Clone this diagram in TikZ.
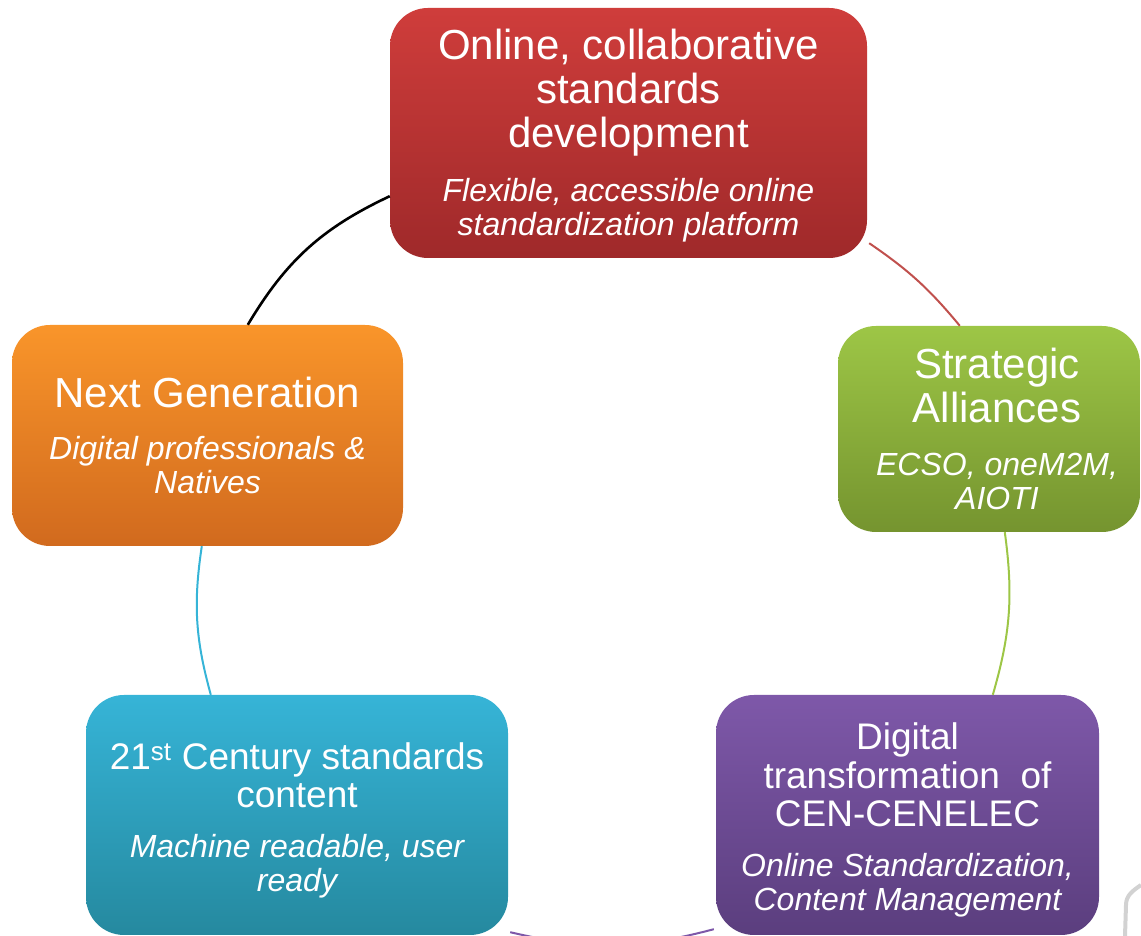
\documentclass[tikz,border=0pt]{standalone}
\usepackage{fontspec}
\setmainfont{Liberation Sans}
\usepackage{xcolor}
\usepackage{tikz}
\usetikzlibrary{calc}
\definecolor{redtop}{HTML}{CF3D3B}
\definecolor{redbot}{HTML}{9F292A}
\definecolor{redline}{HTML}{C0504D}
\definecolor{greentop}{HTML}{9DC646}
\definecolor{greenbot}{HTML}{75942F}
\definecolor{purpletop}{HTML}{7E58A9}
\definecolor{purplebot}{HTML}{5B3E7E}
\definecolor{cyantop}{HTML}{36B4D7}
\definecolor{cyanbot}{HTML}{25899F}
\definecolor{orangetop}{HTML}{F9952A}
\definecolor{orangebot}{HTML}{D16A1E}
\tikzset{cycle box/.style={rounded corners=38pt,text=white,inner sep=0pt,text height=0pt,text depth=0pt},arc line/.style={line width=2pt}}
\newcommand{\headfont}{\fontsize{42}{44}\selectfont}
\newcommand{\midheadfont}{\fontsize{37}{38.5}\selectfont}
\newcommand{\notefont}{\fontsize{32}{34}\selectfont\itshape}
\newcommand{\boxtext}[3]{\raisebox{#1}{\parbox[c]{#2}{\centering #3}}}

\begin{document}
\begin{tikzpicture}[x=1pt,y=1pt]
			\useasboundingbox (0,0) rectangle (1141,936);
			\clip (0,0) rectangle (1141,936);
			\node[cycle box,top color=redtop,bottom color=redbot,minimum width=477pt,minimum height=250pt] (online) at (628.5,803)
				{\boxtext{-5.5pt}{460pt}{{\headfont Online, collaborative\\standards\\development\par}\vspace{20pt}{\notefont Flexible, accessible online\\standardization platform\par}}};
			\node[cycle box,top color=greentop,bottom color=greenbot,minimum width=302pt,minimum height=206pt] (alliances) at (989,507)
				{\hspace*{16pt}\boxtext{-2.5pt}{274pt}{{\headfont Strategic\\Alliances\par}\vspace{18.5pt}{\notefont ECSO, oneM2M,\\AIOTI\par}}};
			\node[cycle box,top color=purpletop,bottom color=purplebot,minimum width=383pt,minimum height=240pt] (digital) at (907.5,121)
				{\boxtext{-7.25pt}{372pt}{{\midheadfont Digital\\transformation~ of\\CEN-CENELEC\par}\vspace{15.5pt}{\notefont Online Standardization,\\Content Management\par}}};
			\node[cycle box,top color=cyantop,bottom color=cyanbot,minimum width=422pt,minimum height=240pt] (content) at (297,121)
				{\boxtext{-8pt}{412pt}{{\midheadfont 21\textsuperscript{st} Century standards\\content\par}\vspace{16pt}{\notefont Machine readable, user\\ready\par}}};
			\node[cycle box,top color=orangetop,bottom color=orangebot,minimum width=391pt,minimum height=221pt] (nextgen) at (207.5,500.5)
				{\boxtext{-2.5pt}{382pt}{{\headfont Next Generation\par}\vspace{18pt}{\notefont Digital professionals \&\\Natives\par}}};
			\coordinate (a1) at ($(online.south east)+(2,15)$);
			\coordinate (a2) at ($(alliances.north west)+(122,0)$);
			\coordinate (b1) at ($(alliances.south west)+(167,0)$);
			\coordinate (b2) at ($(digital.north west)+(277,0)$);
			\coordinate (c1) at ($(digital.south west)+(-2,6)$);
			\coordinate (c2) at ($(content.south east)+(2,3)$);
			\coordinate (d1) at ($(content.north west)+(125,0)$);
			\coordinate (d2) at ($(nextgen.south west)+(190,0)$);
			\coordinate (e1) at ($(nextgen.north west)+(236,0)$);
			\coordinate (e2) at ($(online.south west)+(0,62)$);
			\draw[arc line,color=redline] (a1) to[bend left=8] (a2);
			\draw[arc line,color=greentop] (b1) to[bend left=12] (b2);
			\draw[arc line,color=purpletop] (c1) to[bend left=14] (c2);
			\draw[arc line,color=cyantop] (d1) to[bend left=12] (d2);
			\draw[arc line,line width=2.6pt,black] (e1) to[bend left=17] (e2);
			\draw[line width=4pt,color=gray!35] (1125,0) -- (1126,31) to[out=90,in=215] (1141,51);
		\end{tikzpicture}
\end{document}
